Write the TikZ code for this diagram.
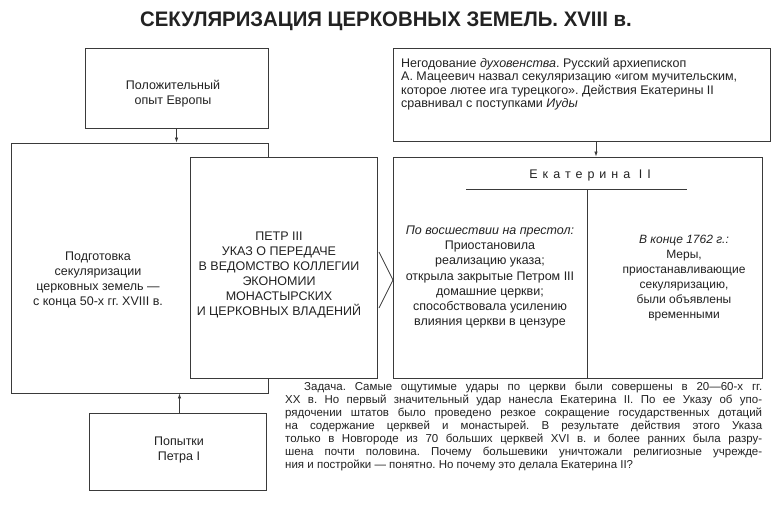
\documentclass[tikz,border=0pt]{standalone}
\usepackage{graphicx}
\usepackage{fontspec}
\setmainfont{Liberation Sans}
\usetikzlibrary{arrows.meta,calc}
\definecolor{ink}{HTML}{222222}
\definecolor{frame}{HTML}{3A3A3A}
\frenchspacing
\begin{document}
\begin{tikzpicture}[x=1pt,y=-1pt,
  box/.style={draw=frame, line width=0.9pt, fill=white, inner sep=0pt},
  txt/.style={text=ink, align=center, inner sep=0pt, font=\fontsize{12.5}{15}\selectfont},
  conn/.style={draw=frame, line width=0.8pt, -{Latex[length=5pt,width=3.5pt]}},
]
\useasboundingbox (0,0) rectangle (774,512);
\fill[white] (0,0) rectangle (774,512);

% title
\node[text=ink, inner sep=0pt] (title) at (386,21)
  {\scalebox{0.97}[1]{\bfseries\fontsize{21}{25}\selectfont СЕКУЛЯРИЗАЦИЯ ЦЕРКОВНЫХ ЗЕМЕЛЬ. XVIII в.}};

% left column
\node[box, minimum width=183pt, minimum height=80pt] (A) at (176.5,88) {};
\node[txt] (Atext) at (173,94) {Положительный\\опыт Европы};

\node[box, minimum width=257pt, minimum height=250pt] (B) at (139.5,268) {};
\node[txt] (Btext) at (98,280) {Подготовка\\секуляризации\\церковных земель —\\с конца 50-х гг. XVIII в.};

\node[box, minimum width=187pt, minimum height=221pt] (C) at (283.5,267.5) {};
\node[txt] (Ctext) at (279,275) {ПЕТР III\\УКАЗ О ПЕРЕДАЧЕ\\В ВЕДОМСТВО КОЛЛЕГИИ\\ЭКОНОМИИ\\МОНАСТЫРСКИХ\\И ЦЕРКОВНЫХ ВЛАДЕНИЙ};

\node[box, minimum width=177pt, minimum height=77pt] (F) at (177.5,451.5) {};
\node[txt] (Ftext) at (179,450) {Попытки\\Петра I};

% right column
\node[box, minimum width=377pt, minimum height=93pt] (D) at (581.5,94.5) {};
\node[txt, align=left, anchor=west, font=\fontsize{12.5}{13.5}\selectfont] (Dtext) at (401,84)
  {Негодование \textit{духовенства}. Русский архиепископ\\
   А. Мацеевич назвал секуляризацию «игом мучительским,\\
   которое лютее ига турецкого». Действия Екатерины II\\
   сравнивал с поступками \textit{Иуды}};

\node[box, minimum width=369pt, minimum height=221pt] (E) at (577.5,267.5) {};
\node[txt] (Ehead) at (590,175) {\addfontfeature{LetterSpace=40}Екатерина II};
\coordinate (ul1) at (466,189);
\coordinate (ul2) at (687,189);
\draw[frame, line width=0.8pt] (ul1) -- (ul2);
\coordinate (dv) at (587,189);
\draw[frame, line width=0.8pt] (dv) -- (dv |- E.south);
\node[txt, font=\fontsize{12.5}{15.2}\selectfont] (Eleft) at (490,277)
  {\textit{По восшествии на престол:}\\Приостановила\\реализацию указа;\\открыла закрытые Петром III\\домашние церкви;\\способствовала усилению\\влияния церкви в цензуре};
\node[txt, font=\fontsize{12}{15}\selectfont] (Eright) at (684,278)
  {\textit{В конце 1762 г.:}\\Меры,\\приостанавливающие\\секуляризацию,\\были объявлены\\временными};

% connectors
\draw[conn] (A.south) -- (A.south |- B.north);
\draw[conn] ([xshift=14.5pt]D.south) -- ([xshift=14.5pt]D.south |- E.north);
\draw[conn] ([xshift=2pt]F.north) -- ([xshift=2pt]F.north |- B.south);
\coordinate (ch1) at (379,252);
\coordinate (ch2) at (393,280);
\coordinate (ch3) at (379,308);
\draw[frame, line width=0.8pt, line join=miter] (ch1) -- (ch2) -- (ch3);

% note
\node[text=ink, align=left, anchor=north west, inner sep=0pt, font=\fontsize{11.5}{13}\selectfont] (note) at (285,382)
  {\hspace*{19pt}\makebox[458pt][s]{Задача. Самые ощутимые удары по церкви были совершены в 20—60-х гг.}\\
   \makebox[477pt][s]{XX в. Но первый значительный удар нанесла Екатерина II. По ее Указу об упо-}\\
   \makebox[477pt][s]{рядочении штатов было проведено резкое сокращение государственных дотаций}\\
   \makebox[477pt][s]{на содержание церквей и монастырей. В результате действия этого Указа}\\
   \makebox[477pt][s]{только в Новгороде из 70 больших церквей XVI в. и более ранних была разру-}\\
   \makebox[477pt][s]{шена почти половина. Почему большевики уничтожали религиозные учрежде-}\\
   ния и постройки — понятно. Но почему это делала Екатерина II?};
\end{tikzpicture}
\end{document}
